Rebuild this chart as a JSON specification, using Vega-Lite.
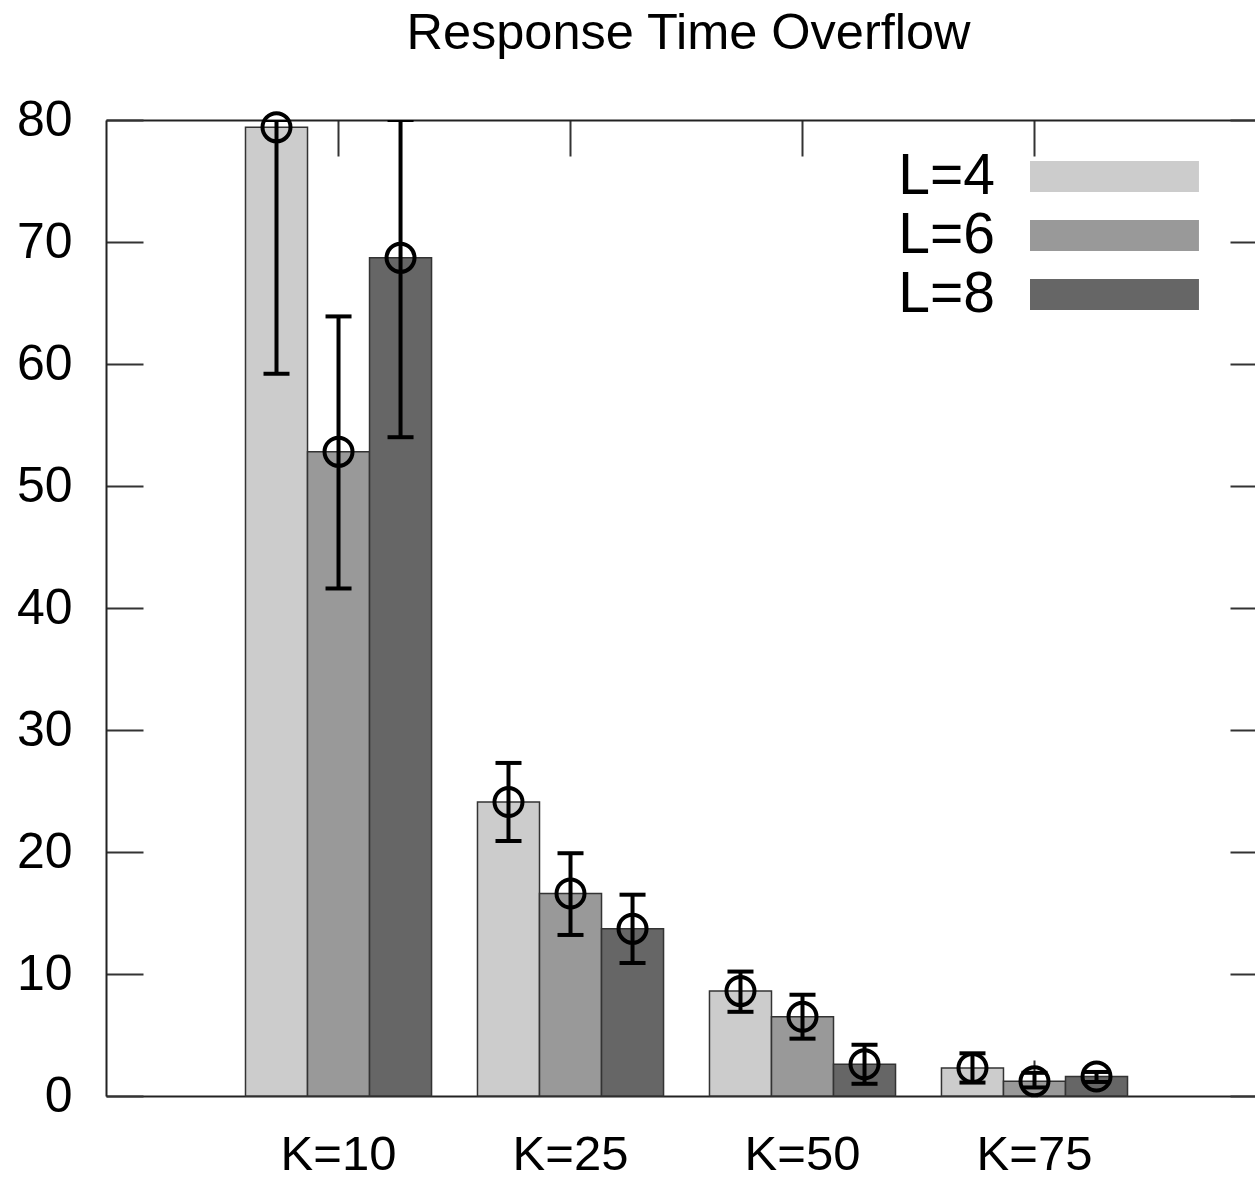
{
  "$schema": "https://vega.github.io/schema/vega-lite/v6.json",
  "width": 1149,
  "height": 976,
  "autosize": {"type": "none"},
  "padding": {"left": 106, "top": 120, "right": 0, "bottom": 82},
  "background": "white",
  "config": {
    "view": {"stroke": null},
    "font": "Liberation Sans"
  },
  "data": {
    "values": [
      {"K": "K=10", "L": "L=4", "v": 79.4, "lo": 59.2, "hi": 80.0},
      {"K": "K=10", "L": "L=6", "v": 52.8, "lo": 41.6, "hi": 63.9},
      {"K": "K=10", "L": "L=8", "v": 68.7, "lo": 54.0, "hi": 80.0},
      {"K": "K=25", "L": "L=4", "v": 24.1, "lo": 20.9, "hi": 27.3},
      {"K": "K=25", "L": "L=6", "v": 16.6, "lo": 13.2, "hi": 19.9},
      {"K": "K=25", "L": "L=8", "v": 13.7, "lo": 10.9, "hi": 16.5},
      {"K": "K=50", "L": "L=4", "v": 8.6, "lo": 6.9, "hi": 10.2},
      {"K": "K=50", "L": "L=6", "v": 6.5, "lo": 4.7, "hi": 8.3},
      {"K": "K=50", "L": "L=8", "v": 2.6, "lo": 1.0, "hi": 4.2},
      {"K": "K=75", "L": "L=4", "v": 2.3, "lo": 1.1, "hi": 3.5},
      {"K": "K=75", "L": "L=6", "v": 1.2, "lo": 0.7, "hi": 1.9},
      {"K": "K=75", "L": "L=8", "v": 1.6, "lo": 1.15, "hi": 1.97}
    ]
  },
  "encoding": {
    "x": {
      "field": "K",
      "type": "nominal",
      "scale": {"paddingInner": 0.198, "paddingOuter": 0.5754, "align": 0.5225}
    },
    "xOffset": {
      "field": "L",
      "type": "nominal",
      "scale": {"paddingInner": 0, "paddingOuter": 0}
    }
  },
  "layer": [
    {
      "mark": {"type": "bar", "stroke": "#333333", "strokeWidth": 1.5},
      "encoding": {
        "x": {
          "field": "K",
          "type": "nominal",
          "axis": {
            "orient": "bottom",
            "title": null,
            "labelAngle": 0,
            "labelFont": "Liberation Sans",
            "labelFontSize": 49,
            "labelColor": "black",
            "labelPadding": 70,
            "tickSize": -36,
            "tickColor": "#333333",
            "tickWidth": 2,
            "domainColor": "#222222",
            "domainWidth": 2
          }
        },
        "y": {
          "field": "v",
          "type": "quantitative",
          "scale": {"domain": [0, 80], "nice": false, "zero": true},
          "axis": {
            "orient": "left",
            "title": null,
            "values": [0, 10, 20, 30, 40, 50, 60, 70, 80],
            "grid": false,
            "labelFont": "Liberation Sans",
            "labelFontSize": 50,
            "labelColor": "black",
            "labelPadding": 71,
            "tickSize": -37,
            "tickColor": "#333333",
            "tickWidth": 2,
            "domainColor": "#222222",
            "domainWidth": 2
          }
        },
        "color": {
          "field": "L",
          "type": "nominal",
          "scale": {"domain": ["L=4", "L=6", "L=8"], "range": ["#cccccc", "#999999", "#666666"]},
          "legend": {
            "title": null,
            "orient": "none",
            "legendX": 911,
            "legendY": 28,
            "padding": 0,
            "symbolType": "M-1,-1H9.9V1H-1Z",
            "symbolSize": 961,
            "symbolStrokeWidth": 0,
            "symbolOpacity": 1,
            "labelFont": "Liberation Sans",
            "labelFontSize": 57,
            "labelColor": "black",
            "labelAlign": "right",
            "labelOffset": -79,
            "rowPadding": 1
          }
        }
      }
    },
    {
      "mark": {"type": "rule", "color": "black", "strokeWidth": 4, "clip": true},
      "encoding": {
        "x": {"field": "K", "type": "nominal", "axis": null},
        "y": {"field": "lo", "type": "quantitative", "axis": null},
        "y2": {"field": "hi"}
      }
    },
    {
      "mark": {"type": "tick", "color": "black", "thickness": 4, "size": 26, "clip": true, "opacity": 1},
      "encoding": {
        "x": {"field": "K", "type": "nominal", "axis": null},
        "y": {"field": "lo", "type": "quantitative", "axis": null}
      }
    },
    {
      "mark": {"type": "tick", "color": "black", "thickness": 4, "size": 26, "clip": true, "opacity": 1},
      "encoding": {
        "x": {"field": "K", "type": "nominal", "axis": null},
        "y": {"field": "hi", "type": "quantitative", "axis": null}
      }
    },
    {
      "mark": {"type": "point", "shape": "circle", "filled": false, "color": "black", "strokeWidth": 4, "size": 784, "opacity": 1},
      "encoding": {
        "x": {
          "field": "K",
          "type": "nominal",
          "axis": {
            "orient": "top",
            "title": "Response Time Overflow",
            "titleFont": "Liberation Sans",
            "titleFontSize": 50.5,
            "titleFontWeight": "normal",
            "titleColor": "black",
            "titleX": 582,
            "titleY": -72,
            "titleAlign": "center",
            "titleBaseline": "alphabetic",
            "labels": false,
            "tickSize": -36,
            "tickColor": "#333333",
            "tickWidth": 2,
            "domainColor": "#222222",
            "domainWidth": 2
          }
        },
        "y": {
          "field": "v",
          "type": "quantitative",
          "axis": {
            "orient": "right",
            "title": null,
            "labels": false,
            "grid": false,
            "values": [0, 10, 20, 30, 40, 50, 60, 70, 80],
            "tickSize": -25,
            "tickColor": "#333333",
            "tickWidth": 2,
            "domain": false
          }
        }
      }
    }
  ],
  "resolve": {"axis": {"x": "independent", "y": "independent"}}
}
